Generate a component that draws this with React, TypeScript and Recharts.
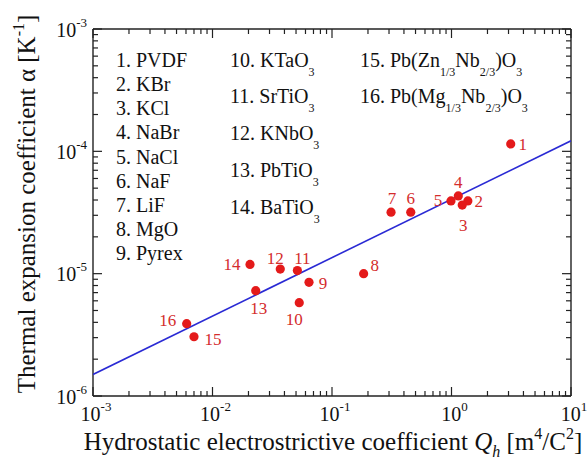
import React from 'react';
import { ScatterChart, Scatter, XAxis, YAxis, Customized } from 'recharts';

// ---- data ----
const materialIds = [1, 2, 3, 4, 5, 6, 7, 8, 9, 10, 11, 12, 13, 14, 15, 16];
const qhValues = [3.13, 1.37, 1.23, 1.14, 0.99, 0.456, 0.312, 0.184, 0.0642, 0.0532, 0.0513, 0.0369, 0.023, 0.0206, 0.007, 0.00608];
const alphaValues = [1.15e-4, 3.93e-5, 3.64e-5, 4.32e-5, 3.93e-5, 3.18e-5, 3.18e-5, 1.0e-5, 8.5e-6, 5.79e-6, 1.06e-5, 1.09e-5, 7.26e-6, 1.19e-5, 3.05e-6, 3.9e-6];
const fitQh = [1e-3, 10];
const fitAlpha = [1.5e-6, 1.22e-4];

const xMajorTicks = [1e-3, 1e-2, 1e-1, 1, 10];
const yMajorTicks = [1e-6, 1e-5, 1e-4, 1e-3];

const legendCol1 = ['1. PVDF', '2. KBr', '3. KCl', '4. NaBr', '5. NaCl', '6. NaF', '7. LiF', '8. MgO', '9. Pyrex'];
const legendCol2 = ['10. KTaO_{3}', '11. SrTiO_{3}', '12. KNbO_{3}', '13. PbTiO_{3}', '14. BaTiO_{3}'];
const legendCol3 = ['15. Pb(Zn_{1/3}Nb_{2/3})O_{3}', '16. Pb(Mg_{1/3}Nb_{2/3})O_{3}'];

// label placement (pixel offsets from each dot), style only
const labelOffsets: Record<number, [number, number]> = {
  1: [12, 0], 2: [11, 0], 3: [1, 20], 4: [0, -14], 5: [-13, -1], 6: [0, -14], 7: [1, -14],
  8: [11, -9], 9: [14, 1], 10: [-5, 16], 11: [5, -12.5], 12: [-5, -11], 13: [3, 17],
  14: [-18, 0], 15: [19, 2], 16: [-19, -4],
};

const withMinors = (majors: number[]) => {
  const out: number[] = [];
  for (let i = 0; i < majors.length - 1; i++) {
    for (let m = 1; m <= 9; m++) out.push(majors[i] * m);
  }
  out.push(majors[majors.length - 1]);
  return out;
};
const xTicks = withMinors(xMajorTicks);
const yTicks = withMinors(yMajorTicks);

const FONT = '"Liberation Serif", "Times New Roman", "DejaVu Serif", serif';
const DOT = '#e41a1a';
const LBL = '#d42c2c';
const LINE = '#2a2ad4';
const AX = '#222';

const isMajor = (v: number) => Math.abs(Math.log10(v) - Math.round(Math.log10(v))) < 1e-6;
const expOf = (v: number) => Math.round(Math.log10(v));

const MAJ = 9;
const MIN = 5;

const XTickBottom = (p: any) => {
  const { x, y, payload } = p;
  const v = payload.value;
  const maj = isMajor(v);
  return (
    <g>
      <line x1={x} x2={x} y1={y} y2={y - (maj ? MAJ : MIN)} stroke={AX} strokeWidth={1.2} />
      {maj && (
        <text x={x + 3} y={y + 25} textAnchor="middle" fontFamily={FONT} fontSize={20} fill="#111">
          10<tspan dy={-10} fontSize={13}>{String(expOf(v))}</tspan>
        </text>
      )}
    </g>
  );
};
const XTickTop = (p: any) => {
  const { x, y, payload } = p;
  const maj = isMajor(payload.value);
  return <line x1={x} x2={x} y1={y} y2={y + (maj ? MAJ : MIN)} stroke={AX} strokeWidth={1.2} />;
};
const YTickLeft = (p: any) => {
  const { x, y, payload } = p;
  const v = payload.value;
  const maj = isMajor(v);
  return (
    <g>
      <line x1={x} x2={x + (maj ? MAJ : MIN)} y1={y} y2={y} stroke={AX} strokeWidth={1.2} />
      {maj && (
        <text x={x - 6} y={y + 7.5} textAnchor="end" fontFamily={FONT} fontSize={20} fill="#111">
          10<tspan dy={-10} fontSize={13}>{String(expOf(v))}</tspan>
        </text>
      )}
    </g>
  );
};
const YTickRight = (p: any) => {
  const { x, y, payload } = p;
  const maj = isMajor(payload.value);
  return <line x1={x} x2={x - (maj ? MAJ : MIN)} y1={y} y2={y} stroke={AX} strokeWidth={1.2} />;
};

const renderRich = (s: string) => {
  const parts = s.split(/(_\{[^}]*\})/).filter((t) => t.length > 0);
  let shifted = false;
  return parts.map((t, i) => {
    if (t.startsWith('_{')) {
      const el = (
        <tspan key={i} dy={shifted ? 0 : 9} fontSize={12}>{t.slice(2, -1)}</tspan>
      );
      shifted = true;
      return el;
    }
    const el = (
      <tspan key={i} dy={shifted ? -9 : 0}>{t}</tspan>
    );
    shifted = false;
    return el;
  });
};

const Annotations = () => (
  <g fontFamily={FONT} fill="#111">
    {legendCol1.map((s, i) => (
      <text key={'a' + i} x={116} y={66.7 + i * 24.2} fontSize={20}>{s}</text>
    ))}
    {legendCol2.map((s, i) => (
      <text key={'b' + i} x={230} y={66.7 + i * 36.7} fontSize={20}>{renderRich(s)}</text>
    ))}
    {legendCol3.map((s, i) => (
      <text key={'c' + i} x={360} y={66.7 + i * 36.7} fontSize={20}>{renderRich(s)}</text>
    ))}
    <text x={333} y={450} textAnchor="middle" fontSize={25}>
      Hydrostatic electrostrictive coefficient <tspan fontStyle="italic">Q</tspan>
      <tspan dy={7} fontSize={16} fontStyle="italic">h</tspan>
      <tspan dy={-7}> [m</tspan>
      <tspan dy={-11} fontSize={16}>4</tspan>
      <tspan dy={11}>/C</tspan>
      <tspan dy={-11} fontSize={16}>2</tspan>
      <tspan dy={11}>]</tspan>
    </text>
    <text x={35} y={204} transform="rotate(-90 35 204)" textAnchor="middle" fontSize={25}>
      Thermal expansion coefficient α [K
      <tspan dy={-11} fontSize={16}>-1</tspan>
      <tspan dy={11}>]</tspan>
    </text>
  </g>
);

const DotShape = (p: any) => {
  const { cx, cy, payload } = p;
  const off = labelOffsets[payload.id] || [10, 0];
  return (
    <g>
      <circle cx={cx} cy={cy} r={4.6} fill={DOT} />
      <text x={cx + off[0]} y={cy + off[1] + 6} textAnchor="middle" fontFamily={FONT} fontSize={17} fill={LBL}>
        {payload.id}
      </text>
    </g>
  );
};

export default function App() {
  const points = materialIds.map((id, i) => ({ id, qh: qhValues[i], alpha: alphaValues[i] }));
  const fit = fitQh.map((q, i) => ({ qh: q, alpha: fitAlpha[i] }));
  const axisLine = { stroke: AX, strokeWidth: 1.4 };
  return (
    <div style={{ position: 'absolute', left: 0, top: 0, background: '#fff' }}>
      <ScatterChart width={587} height={463} margin={{ top: 19, right: 6, bottom: 27, left: 43 }}>
        <XAxis xAxisId="b" orientation="bottom" dataKey="qh" type="number" scale="log" domain={[1e-3, 10]}
          ticks={xTicks} interval={0} allowDataOverflow height={40} tickSize={0} tickMargin={0} tickLine={false}
          axisLine={axisLine} tick={(p: any) => <XTickBottom {...p} />} />
        <XAxis xAxisId="t" orientation="top" dataKey="qh" type="number" scale="log" domain={[1e-3, 10]}
          ticks={xTicks} interval={0} allowDataOverflow height={10} tickSize={0} tickMargin={0} tickLine={false}
          axisLine={axisLine} tick={(p: any) => <XTickTop {...p} />} />
        <YAxis yAxisId="l" orientation="left" dataKey="alpha" type="number" scale="log" domain={[1e-6, 1e-3]}
          ticks={yTicks} interval={0} allowDataOverflow width={50} tickSize={0} tickMargin={0} tickLine={false}
          axisLine={axisLine} tick={(p: any) => <YTickLeft {...p} />} />
        <YAxis yAxisId="r" orientation="right" dataKey="alpha" type="number" scale="log" domain={[1e-6, 1e-3]}
          ticks={yTicks} interval={0} allowDataOverflow width={10} tickSize={0} tickMargin={0} tickLine={false}
          axisLine={axisLine} tick={(p: any) => <YTickRight {...p} />} />
        <Customized component={Annotations} />
        <Scatter xAxisId="t" yAxisId="r" data={fit} line={{ stroke: LINE, strokeWidth: 1.6 }} lineType="joint"
          shape={() => <g />} isAnimationActive={false} />
        <Scatter xAxisId="b" yAxisId="l" data={points} shape={(p: any) => <DotShape {...p} />} isAnimationActive={false} />
      </ScatterChart>
    </div>
  );
}
